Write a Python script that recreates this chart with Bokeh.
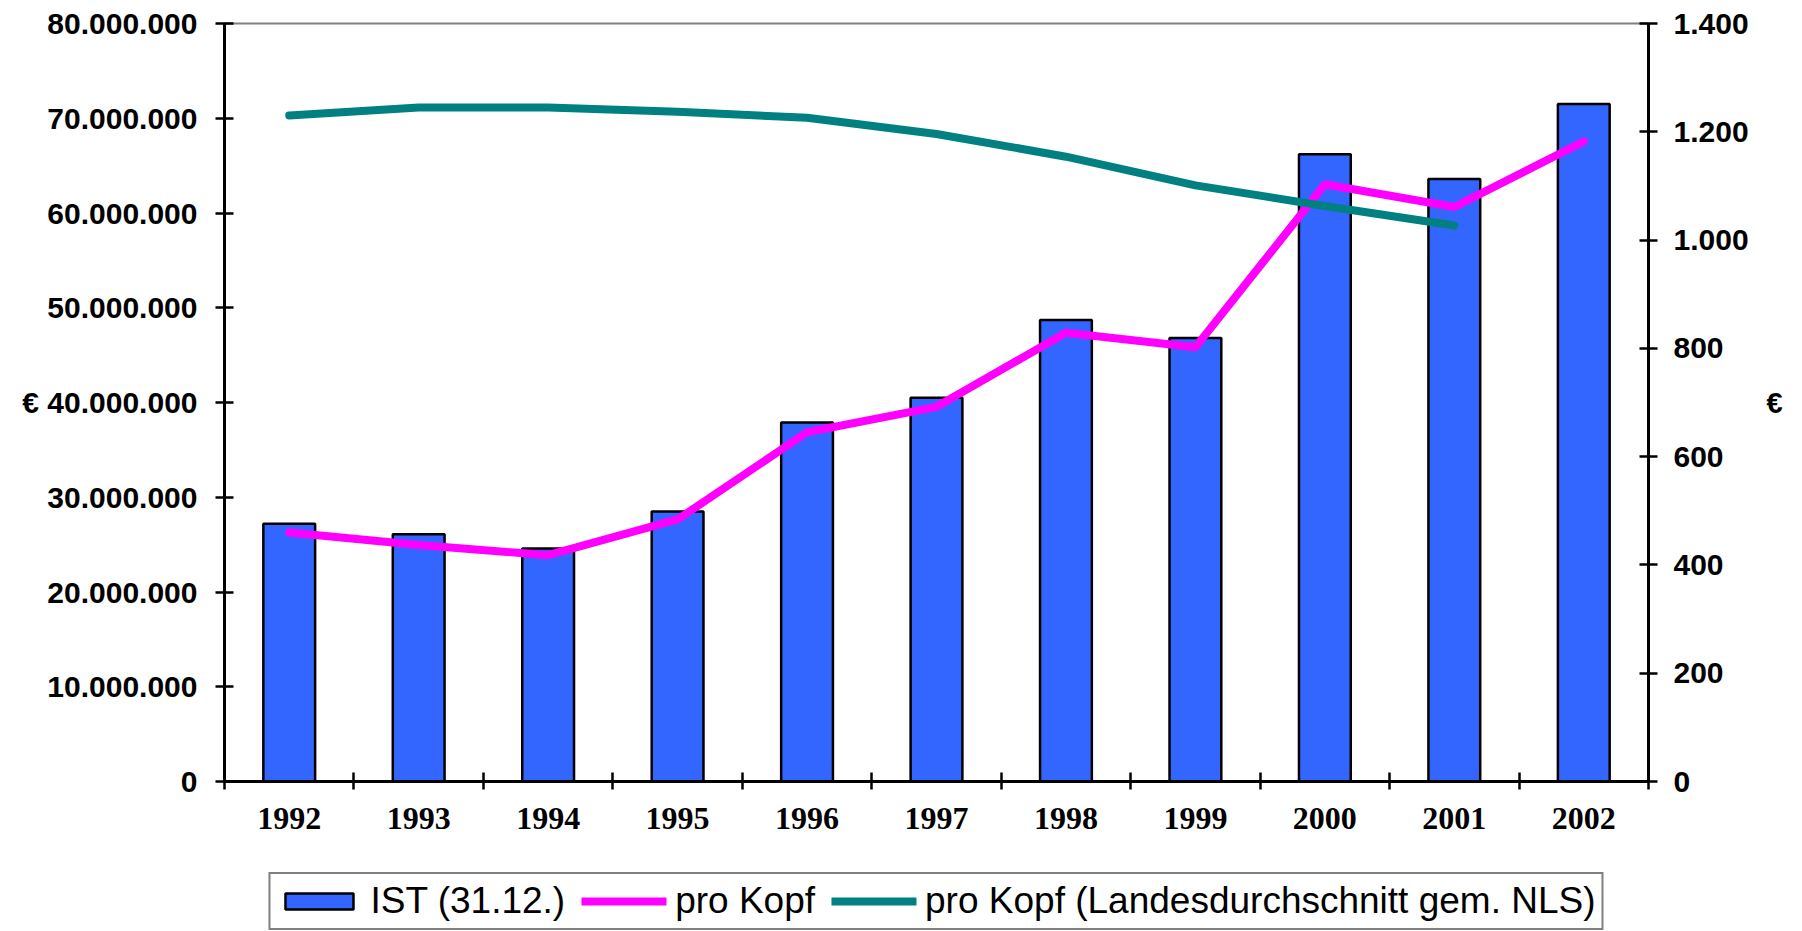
from bokeh.plotting import figure
from bokeh.layouts import column
from bokeh.models import Range1d, LinearAxis, FixedTicker, Legend, LegendItem
from bokeh.embed import file_html
from bokeh.resources import INLINE

# ---- data ----
years = ["1992", "1993", "1994", "1995", "1996", "1997", "1998", "1999", "2000", "2001", "2002"]
ist = [27200000, 26100000, 24600000, 28500000, 37900000, 40500000,
       48700000, 46800000, 66200000, 63600000, 71500000]
pro_kopf = [460, 437, 418, 484, 645, 692, 829, 802, 1103, 1061, 1182]
landes_years = ["1992", "1993", "1994", "1995", "1996", "1997", "1998", "1999", "2000", "2001"]
landes = [1230, 1245, 1245, 1237, 1226, 1196, 1154, 1101, 1063, 1027]

left_ticks = [0, 10000000, 20000000, 30000000, 40000000, 50000000, 60000000, 70000000, 80000000]
left_labels = ["0", "10.000.000", "20.000.000", "30.000.000", "€ 40.000.000",
               "50.000.000", "60.000.000", "70.000.000", "80.000.000"]
right_ticks = [0, 200, 400, 600, 800, 1000, 1200, 1400]
right_labels = ["0", "200", "400", "600", "800", "1.000", "1.200", "1.400"]

legend_labels = ["IST (31.12.)", "pro Kopf", "pro Kopf (Landesdurchschnitt gem. NLS)"]
unit_label = "€"
unit_pos_right = 700

BAR_STYLE = dict(fill_color="#3366FF", line_color="black", line_width=2.5)
PINK_STYLE = dict(line_color="#FF00FF", line_width=8, line_cap="round")
TEAL_STYLE = dict(line_color="#008080", line_width=8, line_cap="round")

# category positions on a numeric axis (one unit per category)
pos = {y: i + 0.5 for i, y in enumerate(years)}
xs = [pos[y] for y in years]
xs_l = [pos[y] for y in landes_years]

p = figure(frame_width=1424, frame_height=758,
           x_range=Range1d(0, len(years)), y_range=Range1d(0, 80000000),
           output_backend="svg", toolbar_location=None,
           min_border_left=224, min_border_right=150,
           min_border_top=23, min_border_bottom=90)
p.background_fill_color = "white"
p.border_fill_color = "white"
p.xgrid.visible = False
p.ygrid.visible = False
p.outline_line_color = "#808080"
p.outline_line_width = 2

p.extra_y_ranges = {"pk": Range1d(0, 1400)}

p.vbar(x=xs, top=ist, width=0.4, **BAR_STYLE)
p.line(xs, pro_kopf, y_range_name="pk", **PINK_STYLE)
p.line(xs_l, landes, y_range_name="pk", **TEAL_STYLE)

# x axis
xa = p.xaxis[0]
xa.ticker = FixedTicker(ticks=xs, minor_ticks=list(range(len(years) + 1)))
xa.major_label_overrides = {pos[y]: y for y in years}
xa.major_tick_line_color = None
xa.major_tick_in = 0
xa.major_tick_out = 0
xa.minor_tick_in = 9
xa.minor_tick_out = 8
xa.minor_tick_line_color = "black"
xa.minor_tick_line_width = 2.5
xa.axis_line_color = "black"
xa.axis_line_width = 3
xa.major_label_standoff = 18
xa.major_label_text_font = "Liberation Serif"
xa.major_label_text_font_style = "bold"
xa.major_label_text_font_size = "32px"
xa.major_label_text_color = "black"

# left axis
ya = p.yaxis[0]
ya.ticker = FixedTicker(ticks=left_ticks)
ya.major_label_overrides = dict(zip(left_ticks, left_labels))
ya.minor_tick_line_color = None
ya.major_tick_in = 9
ya.major_tick_out = 9
ya.major_tick_line_width = 2.5
ya.major_tick_line_color = "black"
ya.axis_line_width = 3
ya.axis_line_color = "black"
ya.major_label_standoff = 18
ya.major_label_text_font = "Liberation Sans"
ya.major_label_text_font_style = "bold"
ya.major_label_text_font_size = "30px"
ya.major_label_text_color = "black"

# right axis
ra = LinearAxis(y_range_name="pk", ticker=FixedTicker(ticks=right_ticks))
ra.major_label_overrides = dict(zip(right_ticks, right_labels))
ra.minor_tick_line_color = None
ra.major_tick_in = 9
ra.major_tick_out = 9
ra.major_tick_line_width = 2.5
ra.major_tick_line_color = "black"
ra.axis_line_width = 3
ra.axis_line_color = "black"
ra.major_label_standoff = 16
ra.major_label_text_font = "Liberation Sans"
ra.major_label_text_font_style = "bold"
ra.major_label_text_font_size = "30px"
ra.major_label_text_color = "black"
p.add_layout(ra, "right")

# right unit label as a tick-less axis
ua = LinearAxis(y_range_name="pk", ticker=FixedTicker(ticks=[unit_pos_right]))
ua.major_label_overrides = {unit_pos_right: unit_label}
ua.axis_line_color = None
ua.major_tick_line_color = None
ua.minor_tick_line_color = None
ua.major_tick_in = 0
ua.major_tick_out = 0
ua.major_label_standoff = 15
ua.major_label_text_font = "Liberation Sans"
ua.major_label_text_font_style = "bold"
ua.major_label_text_font_size = "29px"
ua.major_label_text_color = "black"
p.add_layout(ua, "right")

# ---- legend strip: its own small figure; the series are added there as hidden
# renderers only so that the legend shows their glyphs ----
q = figure(width=1798, height=60, x_range=Range1d(0, len(years)),
           y_range=Range1d(-2, -1),
           output_backend="svg", toolbar_location=None,
           x_axis_location=None, y_axis_location=None,
           min_border_left=224, min_border_right=150,
           min_border_top=0, min_border_bottom=0)
q.grid.visible = False
q.outline_line_color = None
q.background_fill_color = "white"
q.border_fill_color = "white"
g1 = q.vbar(x=xs, top=ist, width=0.4, visible=False, **BAR_STYLE)
g2 = q.line(xs, pro_kopf, visible=False, **PINK_STYLE)
g3 = q.line(xs_l, landes, visible=False, **TEAL_STYLE)

legend = Legend(items=[LegendItem(label=legend_labels[0], renderers=[g1]),
                       LegendItem(label=legend_labels[1], renderers=[g2]),
                       LegendItem(label=legend_labels[2], renderers=[g3])],
                orientation="horizontal", location="center")
legend.glyph_width = 85
legend.glyph_height = 20
legend.label_standoff = 9
legend.spacing = 16
legend.padding = 6
legend.margin = 0
legend.inactive_fill_alpha = 0
legend.label_text_font = "Liberation Sans"
legend.label_text_font_size = "37px"
legend.label_text_color = "black"
legend.border_line_color = "black"
legend.border_line_width = 2
legend.background_fill_color = "white"
legend.background_fill_alpha = 1
q.add_layout(legend)

layout = column(p, q, spacing=0)
open("out.html", "w").write(file_html(layout, INLINE))
